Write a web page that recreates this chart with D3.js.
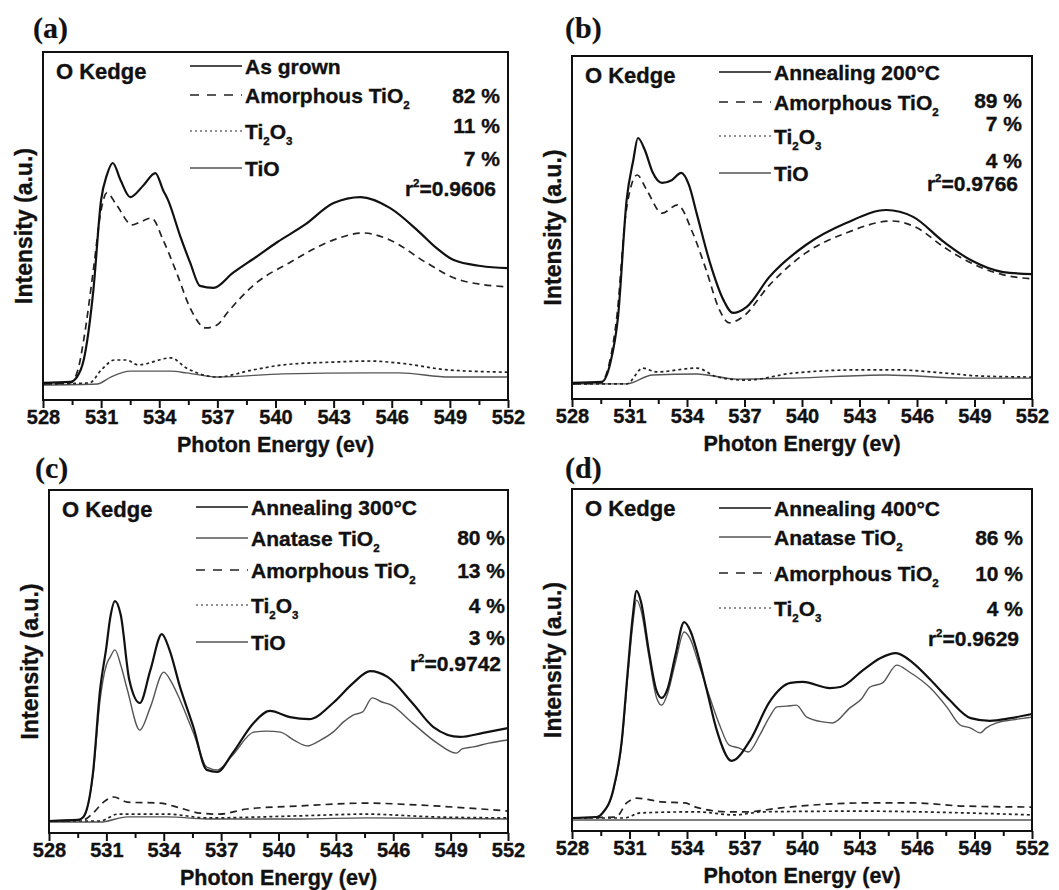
<!DOCTYPE html>
<html lang="en">
<head>
<meta charset="UTF-8">
<title>O K-edge XAS fits</title>
<script src="https://d3js.org/d3.v7.min.js"></script>
<style>
  body { margin: 0; background: #fff; }
  svg text { font-family: "Liberation Sans", Arial, Helvetica, sans-serif; font-weight: bold; fill: #111; stroke: #111; stroke-width: 0.35px; }
  svg text.tag { font-family: "Liberation Serif", "Times New Roman", serif; stroke-width: 0.2px; }
</style>
</head>
<body>
<svg id="vis" width="1059" height="890"></svg>
<script>
// x axis ticks (photon energy, eV)
const energyTicks = [528, 531, 534, 537, 540, 543, 546, 549, 552];

// ---- (a) as grown ----  [energy, intensity a.u.]
const aAsGrown = [[528,0.049],[529.4,0.052],[529.75,0.066],[530.1,0.115],[530.6,0.316],[531.0,0.575],[531.3,0.647],[531.6,0.681],[532.0,0.632],[532.5,0.583],[533.2,0.618],[533.8,0.652],[534.2,0.603],[534.45,0.575],[535.1,0.468],[535.6,0.394],[536.1,0.328],[536.8,0.322],[537.8,0.365],[539.0,0.411],[540.1,0.454],[541.5,0.503],[543.0,0.566],[544.4,0.583],[545.9,0.552],[547.3,0.489],[548.3,0.437],[549.2,0.402],[550.6,0.385],[552,0.379]];
const aAmorphous = [[528,0.046],[529.4,0.049],[529.8,0.086],[530.1,0.172],[530.6,0.374],[531.0,0.546],[531.3,0.595],[531.8,0.560],[532.6,0.503],[533.0,0.511],[533.6,0.523],[534.2,0.460],[534.9,0.365],[535.6,0.264],[536.4,0.207],[537.0,0.216],[537.5,0.250],[539.0,0.336],[540.7,0.394],[543.0,0.460],[544.5,0.480],[545.9,0.460],[547.8,0.394],[549.5,0.345],[552,0.325]];
const aTi2O3 = [[528,0.046],[530.4,0.049],[531.0,0.086],[531.7,0.115],[532.3,0.115],[532.9,0.101],[534.6,0.121],[535.4,0.092],[537.0,0.066],[538.8,0.086],[540.4,0.101],[543.0,0.109],[544.9,0.112],[546.4,0.106],[549.0,0.086],[552,0.080]];
const aTiO = [[528,0.043],[530.8,0.046],[531.5,0.066],[532.5,0.083],[534.6,0.083],[535.4,0.078],[537.0,0.066],[540.4,0.075],[544.9,0.078],[546.4,0.078],[549.0,0.066],[552,0.066]];

// ---- (b) annealing 200 C ----
const bAnneal = [[528,0.047],[529.55,0.050],[530.0,0.105],[530.4,0.239],[530.85,0.580],[531.2,0.697],[531.44,0.761],[531.8,0.726],[532.2,0.662],[532.7,0.630],[533.2,0.638],[533.7,0.659],[534.1,0.624],[534.5,0.542],[535.2,0.397],[535.9,0.289],[536.4,0.251],[537.1,0.268],[538.3,0.356],[540.2,0.449],[542.3,0.513],[544.4,0.551],[545.8,0.531],[547.4,0.458],[548.8,0.405],[550.5,0.370],[552,0.364]];
const bAmorphous = [[528,0.044],[529.5,0.047],[529.95,0.105],[530.35,0.245],[530.8,0.536],[531.1,0.624],[531.4,0.653],[531.9,0.609],[532.7,0.542],[533.5,0.566],[534.3,0.484],[535.0,0.376],[535.7,0.259],[536.2,0.222],[536.9,0.239],[538.3,0.332],[540.2,0.426],[542.3,0.484],[544.7,0.519],[546.0,0.499],[547.4,0.443],[548.8,0.397],[550.5,0.362],[552,0.350]];
const bTi2O3 = [[528,0.044],[530.85,0.044],[531.7,0.090],[532.4,0.079],[534.5,0.090],[535.6,0.064],[537.1,0.055],[539.6,0.076],[543.1,0.085],[544.9,0.085],[547.4,0.076],[549.3,0.067],[552,0.064]];
const bTiO = [[528,0.044],[530.85,0.044],[532.2,0.070],[534.5,0.073],[536.6,0.058],[539.6,0.061],[544.4,0.070],[548.5,0.061],[552,0.061]];

// ---- (c) annealing 300 C ----
const cAnneal = [[528,0.035],[529.5,0.038],[529.8,0.047],[530.3,0.175],[530.67,0.417],[531.0,0.542],[531.2,0.627],[531.45,0.676],[531.75,0.636],[532.2,0.446],[532.75,0.379],[533.3,0.475],[533.9,0.580],[534.3,0.534],[534.85,0.426],[535.55,0.309],[536.25,0.184],[536.8,0.178],[537.6,0.233],[538.7,0.321],[539.55,0.356],[540.6,0.338],[541.6,0.332],[542.85,0.379],[543.9,0.437],[544.8,0.472],[545.7,0.455],[547.0,0.379],[548.1,0.309],[549.5,0.280],[550.7,0.292],[552,0.306]];
const cAnatase = [[528,0.035],[529.5,0.038],[529.8,0.047],[530.3,0.169],[530.67,0.388],[531.0,0.490],[531.2,0.513],[531.45,0.534],[531.75,0.490],[532.1,0.417],[532.75,0.300],[533.3,0.367],[534.0,0.469],[534.4,0.440],[534.85,0.388],[535.55,0.292],[536.25,0.192],[536.8,0.184],[537.6,0.227],[538.7,0.294],[539.4,0.297],[540.1,0.294],[540.8,0.271],[541.5,0.254],[542.2,0.271],[542.85,0.294],[543.4,0.324],[543.9,0.344],[544.4,0.353],[544.9,0.394],[545.4,0.382],[545.9,0.373],[547.0,0.321],[548.3,0.262],[549.3,0.233],[549.6,0.245],[550.2,0.251],[551.0,0.262],[552,0.271]];
const cAmorphous = [[528,0.035],[529.8,0.038],[530.3,0.058],[530.85,0.090],[531.4,0.105],[532.1,0.090],[533.8,0.087],[534.85,0.073],[535.9,0.058],[536.9,0.055],[538.35,0.070],[541.1,0.079],[544.6,0.087],[547.2,0.082],[549.85,0.073],[552,0.064]];
const cTi2O3 = [[528,0.035],[530.67,0.035],[531.6,0.055],[534.2,0.055],[536.25,0.044],[541.1,0.050],[544.6,0.055],[548.1,0.047],[552,0.044]];
const cTiO = [[528,0.032],[530.67,0.032],[532.1,0.047],[534.2,0.047],[536.25,0.041],[541.1,0.041],[544.6,0.044],[552,0.041]];

// ---- (d) annealing 400 C ----
const dAnneal = [[528,0.038],[529.3,0.041],[529.6,0.053],[530.15,0.120],[530.6,0.266],[530.9,0.462],[531.15,0.617],[531.37,0.702],[531.6,0.670],[532.0,0.529],[532.4,0.412],[532.68,0.389],[533.0,0.418],[533.4,0.515],[533.85,0.611],[534.2,0.582],[534.5,0.529],[535.03,0.412],[535.55,0.295],[536.33,0.205],[537.3,0.266],[538.3,0.377],[539.4,0.433],[540.05,0.436],[541.45,0.418],[542.0,0.421],[543.2,0.471],[544.1,0.506],[544.9,0.520],[545.8,0.491],[546.7,0.442],[547.7,0.383],[548.8,0.330],[549.8,0.322],[550.9,0.330],[552,0.342]];
const dAnatase = [[528,0.038],[529.3,0.041],[529.6,0.053],[530.15,0.117],[530.6,0.260],[530.9,0.447],[531.15,0.594],[531.37,0.675],[531.6,0.646],[532.0,0.515],[532.4,0.392],[532.68,0.368],[533.0,0.404],[533.4,0.494],[533.85,0.582],[534.2,0.558],[534.5,0.509],[535.1,0.406],[535.7,0.310],[536.2,0.251],[536.7,0.243],[537.2,0.231],[537.8,0.281],[538.3,0.333],[538.7,0.363],[539.2,0.365],[539.7,0.368],[540.25,0.333],[541.1,0.319],[541.6,0.316],[542.5,0.360],[543.1,0.386],[543.55,0.421],[544.2,0.433],[544.95,0.485],[545.6,0.465],[546.7,0.418],[547.55,0.363],[548.25,0.310],[548.8,0.301],[549.3,0.287],[549.6,0.301],[550.15,0.316],[551.0,0.325],[552,0.333]];
const dAmorphous = [[528,0.038],[530.3,0.041],[530.85,0.082],[531.37,0.096],[532.7,0.085],[533.9,0.082],[534.45,0.070],[536.2,0.056],[537.1,0.056],[538.8,0.067],[543.2,0.082],[545.8,0.082],[548.4,0.073],[552,0.070]];
const dTi2O3 = [[528,0.038],[530.7,0.038],[531.6,0.053],[534.45,0.056],[536.5,0.047],[537.9,0.056],[543.2,0.058],[548.4,0.053],[552,0.047]];
const dBase = [[528,0.032],[552,0.032]];

// fit fractions
const aPct = ["82 %", "11 %", "7 %"], aR2 = "0.9606";
const bPct = ["89 %", "7 %", "4 %"], bR2 = "0.9766";
const cPct = ["80 %", "13 %", "4 %", "3 %"], cR2 = "0.9742";
const dPct = ["86 %", "10 %", "4 %"], dR2 = "0.9629";

const styles = {
    thick: { stroke: "#111", width: 2.2, dash: null },
    thin: { stroke: "#555", width: 1.4, dash: null },
    dash: { stroke: "#222", width: 1.7, dash: "7,5" },
    dot: { stroke: "#222", width: 1.7, dash: "3,3" }
};

const panels = [
    { tag: "(a)", tagX: 33, tagY: 38, box: [43, 52, 508, 400], pctRight: 8,
      series: [[aTiO, "thin"], [aTi2O3, "dot"], [aAmorphous, "dash"], [aAsGrown, "thick"]],
      legend: [["As grown", "thick", 14], ["Amorphous TiO_2", "dash", 43], ["Ti_2O_3", "dot", 79], ["TiO", "thin", 116]],
      pct: aPct, pctY: [43, 73, 106], r2: aR2, r2Y: 136 },
    { tag: "(b)", tagX: 565, tagY: 38, box: [572, 56, 1032, 399], pctRight: 10,
      series: [[bTiO, "thin"], [bTi2O3, "dot"], [bAmorphous, "dash"], [bAnneal, "thick"]],
      legend: [["Annealing 200°C", "thick", 16], ["Amorphous TiO_2", "dash", 46], ["Ti_2O_3", "dot", 80], ["TiO", "thin", 117]],
      pct: bPct, pctY: [44, 67, 104], r2: bR2, r2Y: 127 },
    { tag: "(c)", tagX: 35, tagY: 478, box: [49, 490, 508, 833], pctRight: 3,
      series: [[cTiO, "thin"], [cTi2O3, "dot"], [cAmorphous, "dash"], [cAnatase, "thin"], [cAnneal, "thick"]],
      legend: [["Annealing 300°C", "thick", 17], ["Anatase TiO_2", "thin", 48], ["Amorphous TiO_2", "dash", 80], ["Ti_2O_3", "dot", 115], ["TiO", "thin", 152]],
      pct: cPct, pctY: [47, 80, 115, 147], r2: cR2, r2Y: 173 },
    { tag: "(d)", tagX: 565, tagY: 478, box: [572, 489, 1032, 831], pctRight: 9,
      series: [[dBase, "thin"], [dTi2O3, "dot"], [dAmorphous, "dash"], [dAnatase, "thin"], [dAnneal, "thick"]],
      legend: [["Annealing 400°C", "thick", 19], ["Anatase TiO_2", "thin", 48], ["Amorphous TiO_2", "dash", 84], ["Ti_2O_3", "dot", 119]],
      pct: dPct, pctY: [48, 84, 119], r2: dR2, r2Y: 149 }
];

const svg = d3.select("#vis");
const FS = 21;

// writes "TiO_2" / "r^2" style strings as tspans
function richText(sel, str, size) {
    const parts = str.split(/(_\w|\^\w)/).filter(s => s.length);
    let shift = 0;
    parts.forEach(p => {
        const t = sel.append("tspan");
        let target = 0, txt = p, fs = size;
        if (p[0] === "_") { target = size * 0.32; txt = p[1]; fs = size * 0.55; }
        else if (p[0] === "^") { target = -size * 0.42; txt = p[1]; fs = size * 0.55; }
        if (target !== shift) t.attr("dy", target - shift);
        t.attr("font-size", fs).text(txt);
        shift = target;
    });
}

function drawPanel(p) {
    const [x0, y0, x1, y1] = p.box;
    const g = svg.append("g");
    const x = d3.scaleLinear().domain([528, 552]).range([x0, x1]);
    const y = d3.scaleLinear().domain([0, 1]).range([y1, y0]);

    const line = d3.line().x(d => x(d[0])).y(d => y(d[1])).curve(d3.curveMonotoneX);

    g.selectAll("path.curve")
        .data(p.series)
        .join("path")
        .attr("class", "curve")
        .attr("d", d => line(d[0]))
        .attr("fill", "none")
        .attr("stroke", d => styles[d[1]].stroke)
        .attr("stroke-width", d => styles[d[1]].width)
        .attr("stroke-dasharray", d => styles[d[1]].dash)
        .attr("stroke-linejoin", "round");

    // frame
    g.append("rect")
        .attr("x", x0).attr("y", y0)
        .attr("width", x1 - x0).attr("height", y1 - y0)
        .attr("fill", "none").attr("stroke", "#111").attr("stroke-width", 2);

    // x axis, major + minor ticks
    const ax = g.append("g").attr("transform", `translate(0,${y1})`)
        .call(d3.axisBottom(x).tickValues(energyTicks).tickSize(8).tickPadding(2).tickFormat(d3.format("d")));
    ax.select(".domain").remove();
    ax.selectAll("line").attr("stroke", "#111").attr("stroke-width", 2);
    ax.selectAll("text").attr("font-size", 20);

    const minor = g.append("g").attr("transform", `translate(0,${y1})`)
        .call(d3.axisBottom(x).tickValues(d3.range(529.5, 552, 3)).tickSize(5).tickFormat(""));
    minor.select(".domain").remove();
    minor.selectAll("line").attr("stroke", "#111").attr("stroke-width", 2);

    g.append("text")
        .attr("x", (x0 + x1) / 2).attr("y", y1 + 52)
        .attr("text-anchor", "middle").attr("font-size", 21.5)
        .text("Photon Energy (ev)");

    g.append("text")
        .attr("transform", `translate(${x0 - 19},${(y0 + y1) / 2}) rotate(-90)`)
        .attr("text-anchor", "middle").attr("dy", "0.35em").attr("font-size", 23)
        .text("Intensity (a.u.)");

    g.append("text").attr("class", "tag")
        .attr("x", p.tagX).attr("y", p.tagY)
        .attr("font-size", 30)
        .text(p.tag);

    g.append("text")
        .attr("x", x0 + 13).attr("y", y0 + 19 + FS * 0.36)
        .attr("font-size", 22)
        .text("O Kedge");

    // legend
    p.legend.forEach(([label, st, dy]) => {
        const s = styles[st];
        g.append("line")
            .attr("x1", x0 + 147).attr("x2", x0 + 199)
            .attr("y1", y0 + dy).attr("y2", y0 + dy)
            .attr("stroke", s.stroke)
            .attr("stroke-width", st === "dot" ? 1.2 : Math.min(s.width, 1.6))
            .attr("stroke-dasharray", st === "dash" ? "9,8" : (st === "dot" ? "2,3" : null));
        const t = g.append("text")
            .attr("x", x0 + 202).attr("y", y0 + dy + FS * 0.36)
            .attr("font-size", FS);
        richText(t, label, FS);
    });

    p.pct.forEach((v, i) => {
        g.append("text")
            .attr("x", x1 - p.pctRight).attr("y", y0 + p.pctY[i] + FS * 0.36)
            .attr("text-anchor", "end").attr("font-size", FS)
            .text(v);
    });

    const r = g.append("text")
        .attr("x", x1 - p.pctRight - 4).attr("y", y0 + p.r2Y + FS * 0.36)
        .attr("text-anchor", "end").attr("font-size", FS);
    richText(r, "r^2=" + p.r2, FS);
}

panels.forEach(drawPanel);
</script>
</body>
</html>
